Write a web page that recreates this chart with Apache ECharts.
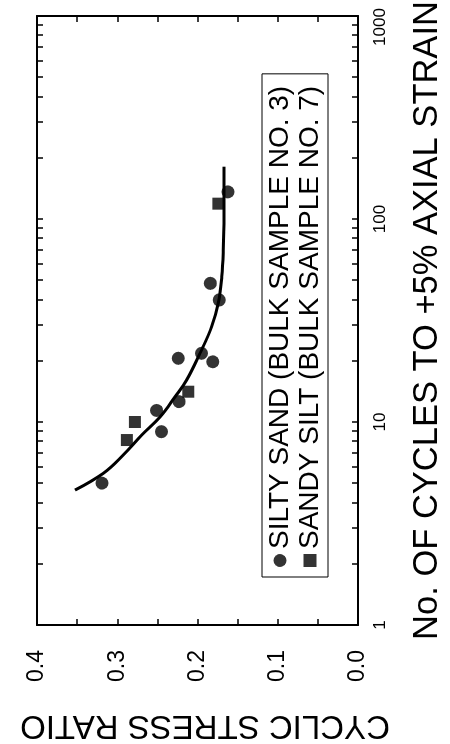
<!DOCTYPE html>
<html>
<head>
<meta charset="utf-8">
<script src="https://cdn.jsdelivr.net/npm/echarts@6/dist/echarts.min.js"></script>
<style>
  html, body { margin: 0; padding: 0; width: 450px; height: 744px; overflow: hidden; background: #fff; }
  #chart { position: absolute; left: 0; top: 0; width: 744px; height: 450px;
           transform-origin: 0 0; transform: translateY(744px) rotate(-90deg); }
</style>
</head>
<body>
<div id="chart"></div>
<script>
// Number of cycles to +5% axial strain vs cyclic stress ratio
var siltySand = [[5.0,0.319],[8.96,0.245],[11.4,0.251],[12.6,0.223],[20.6,0.224],[21.8,0.195],[19.8,0.181],[48.2,0.184],[39.9,0.173],[136,0.162]];
var sandySilt = [[8.15,0.288],[10.0,0.278],[14.1,0.2115],[119,0.174]];
var fitCurve = [[4.62,0.3526],[5.59,0.3174],[6.88,0.2925],[8.63,0.2695],[10.6,0.2467],[13.3,0.228],[16.1,0.2135],[21.8,0.1969],[29.5,0.1823],[38.5,0.1741],[52.0,0.1698],[70.3,0.1679],[103,0.1670],[139,0.1670],[181,0.1670]];
var cycleTicks = [1,2,3,4,5,6,7,8,9,10,20,30,40,50,60,70,80,90,100,200,300,400,500,600,700,800,900,1000];
var cycleLabels = [1,10,100,1000];
var seriesNames = ['SILTY SAND (BULK SAMPLE NO. 3)','SANDY SILT (BULK SAMPLE NO. 7)'];
var xName = 'No. OF CYCLES TO +5% AXIAL STRAIN';
var yName = 'CYCLIC STRESS RATIO';

var FONT = '"Liberation Sans", Arial, Helvetica, sans-serif';
var chart = echarts.init(document.getElementById('chart'), null, {renderer: 'canvas'});

function xAxisDef(pos, showLabel) {
  return {
    type: 'log', logBase: 10, min: 1, max: 1000, position: pos,
    name: showLabel ? xName : '', nameLocation: 'middle', nameGap: 52,
    nameTextStyle: {fontFamily: FONT, fontSize: 34.5, color: '#000'},
    axisLine: {show: true, onZero: false, lineStyle: {color: '#000', width: 2}},
    axisTick: {show: true, inside: true, length: 6, customValues: cycleTicks, lineStyle: {color: '#000', width: 1.5}},
    axisLabel: {show: showLabel, customValues: cycleLabels, margin: 14,
      fontFamily: FONT, fontSize: 17, color: '#000',
      formatter: function (v) { var r = Math.round(v); return r === 1000 ? '{m|1000}' : '{n|' + r + '}'; },
      rich: {
        m: {fontFamily: FONT, fontSize: 17, color: '#000', padding: [0, 22, 0, 0]},
        n: {fontFamily: FONT, fontSize: 17, color: '#000'}
      }
    },
    splitLine: {show: false}, minorTick: {show: false}
  };
}
function yAxisDef(pos, showLabel) {
  return {
    type: 'value', min: 0, max: 0.4, interval: 0.05, position: pos,
    name: showLabel ? yName : '', nameLocation: 'middle', nameGap: 84, nameRotate: 90,
    nameTextStyle: {fontFamily: FONT, fontSize: 33, color: '#000', padding: [0, 15, 0, 0]},
    axisLine: {show: true, onZero: false, lineStyle: {color: '#000', width: 2}},
    axisTick: {show: true, inside: true, length: 6, lineStyle: {color: '#000', width: 1.5}},
    axisLabel: {show: showLabel, margin: 25, fontFamily: FONT, fontSize: 23, color: '#000',
      formatter: function (v) { return Math.round(v * 100) % 10 === 0 ? v.toFixed(1) : ''; }
    },
    splitLine: {show: false}
  };
}

chart.setOption({
  animation: false,
  backgroundColor: '#fff',
  grid: {left: 119, right: 16, top: 37, bottom: 92, show: false, containLabel: false, outerBoundsMode: 'none'},
  xAxis: [xAxisDef('bottom', true), xAxisDef('top', false)],
  yAxis: [yAxisDef('left', true), yAxisDef('right', false)],
  legend: {
    orient: 'vertical', left: 167, top: 262,
    padding: [3, 12, 3, 10], itemGap: 0, itemWidth: 13, itemHeight: 13,
    borderColor: '#000', borderWidth: 1, backgroundColor: '#fff',
    textStyle: {fontFamily: FONT, fontSize: 28, lineHeight: 30, color: '#000'},
    data: [{name: seriesNames[0], icon: 'circle'}, {name: seriesNames[1], icon: 'rect'}]
  },
  series: [
    {name: 'fit', type: 'line', data: fitCurve, smooth: 0.4, showSymbol: false, symbol: 'none',
     lineStyle: {color: '#000', width: 3}, z: 2, legendHoverLink: false},
    {name: seriesNames[0], type: 'scatter', data: siltySand, symbol: 'circle', symbolSize: 13,
     itemStyle: {color: '#000'}, z: 3},
    {name: seriesNames[1], type: 'scatter', data: sandySilt, symbol: 'rect', symbolSize: 12,
     itemStyle: {color: '#000'}, z: 3}
  ]
});
</script>
</body>
</html>
